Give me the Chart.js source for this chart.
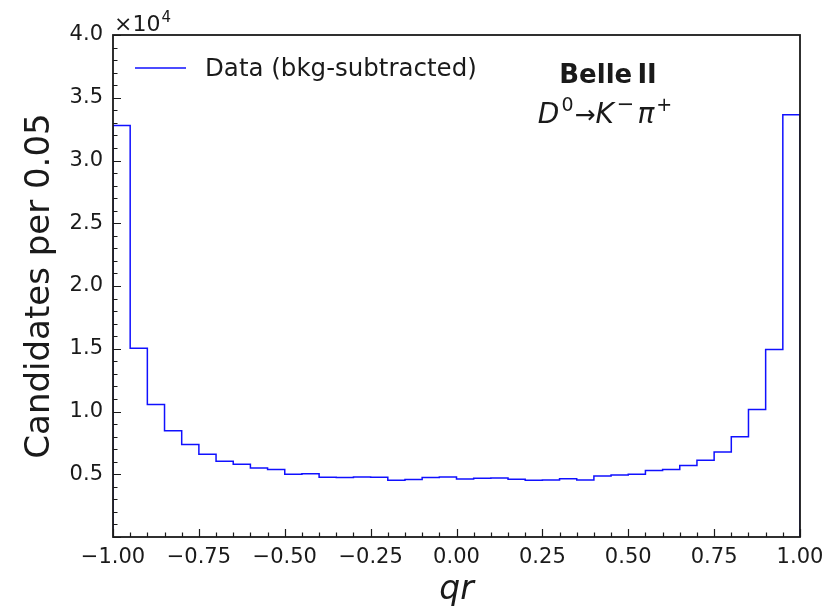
<!DOCTYPE html>
<html>
<head>
<meta charset="utf-8">
<script src="https://cdn.jsdelivr.net/npm/chart.js@4"></script>
<style>
  html, body { margin: 0; padding: 0; background: #fff; }
  #wrap { width: 838px; height: 607px; position: relative; }
</style>
</head>
<body>
<div id="wrap"><canvas id="myChart"></canvas></div>
<script>
// histogram of qr, 40 bins of 0.05 from -1 to 1
let binLow = -1.0;
let binWidth = 0.05;
let counts = [32790, 15030, 10560, 8460, 7370, 6600, 6040, 5800, 5500, 5380,
              5000, 5030, 4760, 4750, 4780, 4760, 4520, 4580, 4740, 4780,
              4630, 4680, 4710, 4600, 4520, 4550, 4640, 4540, 4870, 4950,
              5000, 5300, 5380, 5700, 6120, 6780, 7980, 10160, 14950, 33640];

let xTickValues = [-1, -0.75, -0.5, -0.25, 0, 0.25, 0.5, 0.75, 1];
let yTickValues = [5000, 10000, 15000, 20000, 25000, 30000, 35000, 40000];
let xMinorStep = 0.05;
let yMinorStep = 1000;
let seriesLabel = 'Data (bkg-subtracted)';

let edges = [];
for (let i = 0; i <= counts.length; i++) {
    edges.push(binLow + i * binWidth);
}

// step outline, matplotlib histtype='step' style
let points = [{x: edges[0], y: 0}];
for (let i = 0; i < counts.length; i++) {
    points.push({x: edges[i], y: counts[i]});
}
points.push({x: edges[counts.length], y: counts[counts.length - 1]});
points.push({x: edges[counts.length], y: 0});

function fmtX(v) {
    let s = Math.abs(v).toFixed(2);
    return v < 0 ? '\u2212' + s : s;
}

let decor = {
    id: 'decor',
    afterDatasetsDraw(chart) {
        let ctx = chart.ctx;
        let a = chart.chartArea;
        let xs = chart.scales.x;
        let ys = chart.scales.y;
        ctx.save();
        ctx.strokeStyle = '#1a1a1a';
        ctx.lineWidth = 1.2;
        ctx.beginPath();
        // inward ticks on x axis
        let nx = Math.round((xs.max - xs.min) / xMinorStep);
        for (let i = 0; i <= nx; i++) {
            let v = xs.min + i * xMinorStep;
            let px = Math.round(xs.getPixelForValue(v)) + 0.5;
            let len = (i % 5 === 0) ? 8 : 4.5;
            ctx.moveTo(px, a.bottom);
            ctx.lineTo(px, a.bottom - len);
        }
        // inward ticks on y axis
        let ny = Math.round((ys.max - ys.min) / yMinorStep);
        for (let i = 0; i <= ny; i++) {
            let v = ys.min + i * yMinorStep;
            let py = Math.round(ys.getPixelForValue(v)) + 0.5;
            let len = (i % 5 === 0) ? 8 : 4.5;
            ctx.moveTo(a.left, py);
            ctx.lineTo(a.left + len, py);
        }
        ctx.stroke();

        ctx.lineWidth = 1.8;
        ctx.strokeRect(a.left, a.top, a.right - a.left, a.bottom - a.top);

        // legend
        let ds = chart.data.datasets[0];
        ctx.strokeStyle = ds.borderColor;
        ctx.lineWidth = 1.5;
        ctx.beginPath();
        ctx.moveTo(a.left + 22, a.top + 33);
        ctx.lineTo(a.left + 73, a.top + 33);
        ctx.stroke();
        ctx.fillStyle = '#1a1a1a';
        ctx.textBaseline = 'alphabetic';
        ctx.textAlign = 'left';
        ctx.font = '24.5px "DejaVu Sans"';
        ctx.fillText(ds.label, a.left + 92, a.top + 41);

        // experiment label
        ctx.textAlign = 'center';
        ctx.font = 'bold 26px "DejaVu Sans"';
        ctx.fillText('Belle\u2009II', 608, 83);

        // decay label, drawn piece by piece
        let parts = [
            {t: 'D', f: 'italic 28px "DejaVu Sans"', dy: 0, gap: 2},
            {t: '0', f: '19px "DejaVu Sans"', dy: -12, gap: 1},
            {t: '\u2192', f: '25px "DejaVu Sans"', dy: 0, gap: 0},
            {t: 'K', f: 'italic 28px "DejaVu Sans"', dy: 0, gap: 3},
            {t: '\u2212', f: '21px "DejaVu Sans"', dy: -12, gap: 3},
            {t: '\u03c0', f: 'italic 28px "DejaVu Sans"', dy: 0, gap: 2},
            {t: '+', f: '19px "DejaVu Sans"', dy: -12, gap: 0}
        ];
        let total = 0;
        for (let p of parts) {
            ctx.font = p.f;
            p.w = ctx.measureText(p.t).width;
            total += p.w + p.gap;
        }
        let px = 605 - total / 2;
        ctx.textAlign = 'left';
        for (let p of parts) {
            ctx.font = p.f;
            ctx.fillText(p.t, px, 123 + p.dy);
            px += p.w + p.gap;
        }

        // axis multiplier
        ctx.font = '22px "DejaVu Sans"';
        ctx.fillText('\u00d710', a.left + 1, a.top - 4);
        let w = ctx.measureText('\u00d710').width;
        ctx.font = '15px "DejaVu Sans"';
        ctx.fillText('4', a.left + 2 + w, a.top - 13);
        ctx.restore();
    }
};

Chart.defaults.font.family = '"DejaVu Sans"';
Chart.defaults.color = '#1a1a1a';

let ctx = document.getElementById('myChart').getContext('2d');
let myChart = new Chart(ctx, {
    type: 'line',
    data: {
        datasets: [{
            label: seriesLabel,
            data: points,
            stepped: 'before',
            borderColor: '#1010ff',
            borderWidth: 1.5,
            pointRadius: 0,
            fill: false
        }]
    },
    options: {
        responsive: true,
        maintainAspectRatio: false,
        animation: false,
        layout: { padding: { top: 35, right: 38, left: 0, bottom: 0 } },
        plugins: {
            legend: { display: false },
            tooltip: { enabled: false }
        },
        scales: {
            x: {
                type: 'linear',
                min: -1,
                max: 1,
                grid: { display: false, drawTicks: false },
                border: { display: false },
                afterBuildTicks: (scale) => {
                    scale.ticks = xTickValues.map(v => ({value: v}));
                },
                afterFit: (scale) => { scale.height = 70; },
                ticks: {
                    padding: 8,
                    maxRotation: 0,
                    autoSkip: false,
                    font: { size: 21 },
                    callback: (v) => fmtX(v)
                },
                title: {
                    display: true,
                    text: 'qr',
                    font: { size: 33, style: 'italic', lineHeight: 1 },
                    padding: { top: 0, bottom: 0 }
                }
            },
            y: {
                min: 0,
                max: 40000,
                grid: { display: false, drawTicks: false },
                border: { display: false },
                afterBuildTicks: (scale) => {
                    scale.ticks = yTickValues.map(v => ({value: v}));
                },
                afterFit: (scale) => { scale.width = 113; },
                ticks: {
                    padding: 10,
                    autoSkip: false,
                    font: { size: 21 },
                    callback: (v) => (v / 10000).toFixed(1)
                },
                title: {
                    display: true,
                    text: 'Candidates per 0.05',
                    font: { size: 34, lineHeight: 1 },
                    padding: { top: 23, bottom: 0 }
                }
            }
        }
    },
    plugins: [decor]
});
</script>
</body>
</html>
